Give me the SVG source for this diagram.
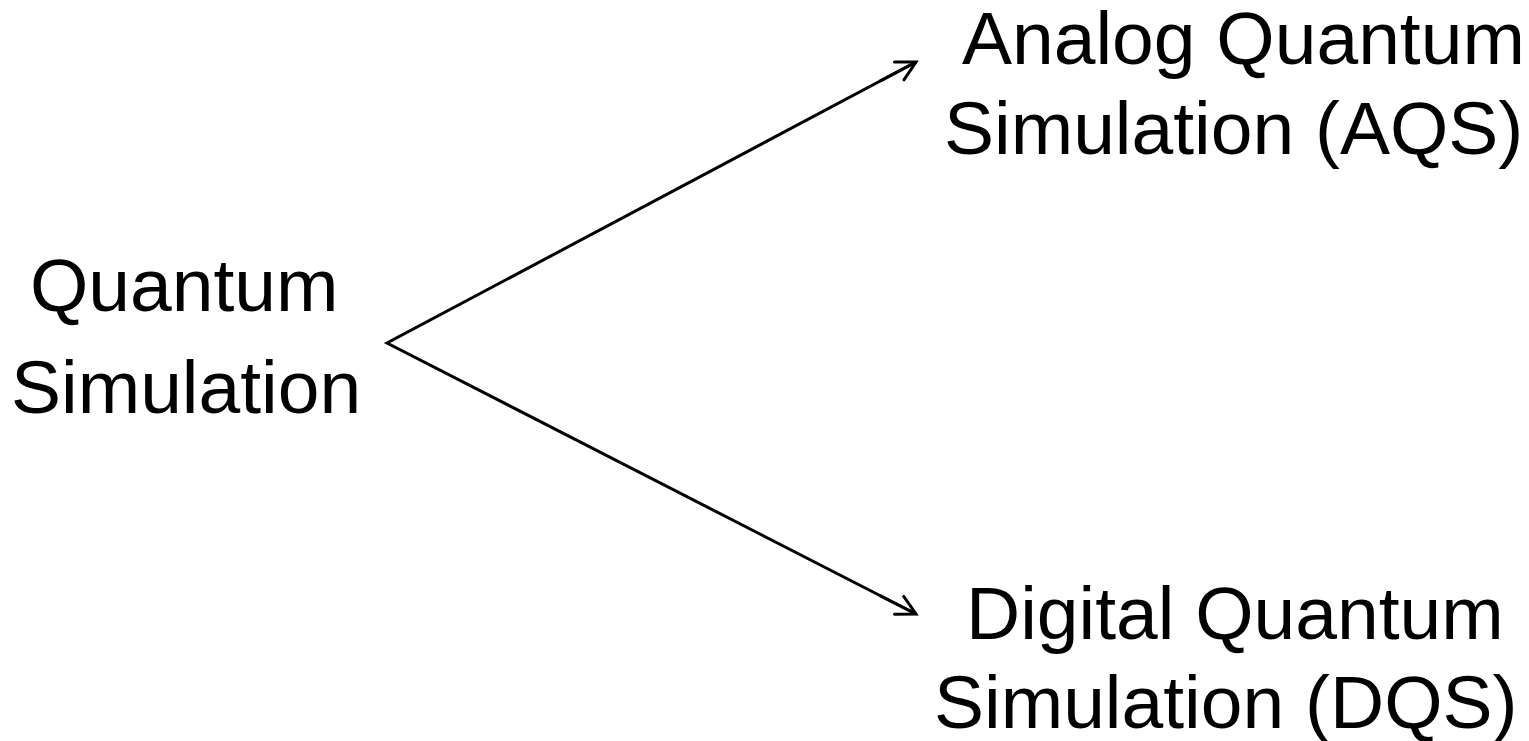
<svg xmlns="http://www.w3.org/2000/svg" width="1529" height="741" viewBox="0 0 1529 741">
<style>
.t{font-family:"Liberation Sans",Arial,sans-serif;font-size:75px;fill:#000}
.c{stroke:#000;stroke-width:3;fill:none}
</style>
<defs>
<marker id="arr" markerUnits="userSpaceOnUse" markerWidth="30" markerHeight="30" viewBox="-25 -15 30 30" refX="0" refY="0" orient="auto">
<path d="M-19,-10.1 L0,0 L-19,10.1" fill="none" stroke="#000" stroke-width="3" stroke-linecap="round" stroke-linejoin="miter"/>
</marker>
</defs>
<rect width="1529" height="741" fill="#fff"/>
<g id="connectors">
<path class="c" d="M916,62 L387,343 L916,614"/>
<line class="c" x1="880" y1="81.1" x2="916" y2="62" marker-end="url(#arr)"/>
<line class="c" x1="880" y1="595.6" x2="916" y2="614" marker-end="url(#arr)"/>
</g>
<g id="n-quantum-simulation">
<text class="t" x="30" y="311">Quantum</text>
<text class="t" x="11" y="413">Simulation</text>
</g>
<g id="n-aqs">
<text class="t" x="962" y="64">Analog Quantum</text>
<text class="t" x="944" y="154">Simulation (AQS)</text>
</g>
<g id="n-dqs">
<text class="t" x="966" y="639">Digital Quantum</text>
<text class="t" x="934" y="728">Simulation (DQS)</text>
</g>
</svg>
